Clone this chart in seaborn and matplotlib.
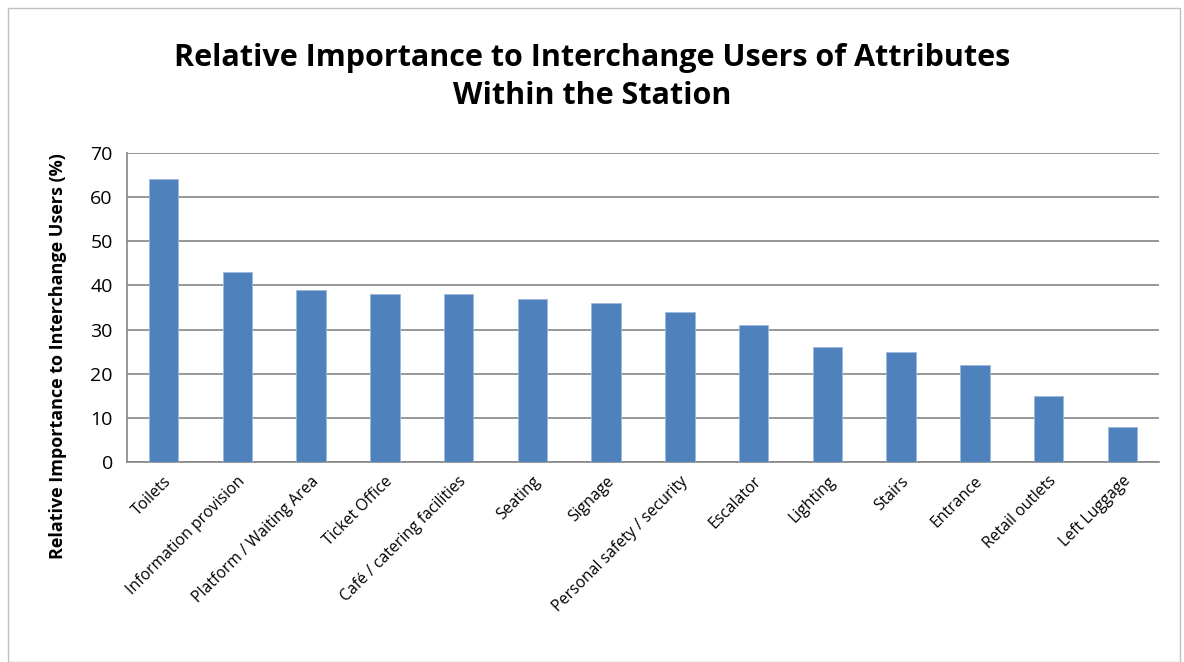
import pandas as pd
import seaborn as sns
import matplotlib.pyplot as plt
from matplotlib.patches import Rectangle

attributes = ['Toilets', 'Information provision', 'Platform / Waiting Area', 'Ticket Office',
              'Café / catering facilities', 'Seating', 'Signage', 'Personal safety / security',
              'Escalator', 'Lighting', 'Stairs', 'Entrance', 'Retail outlets', 'Left Luggage']
importance = [64, 43, 39, 38, 38, 37, 36, 34, 31, 26, 25, 22, 15, 8]
yticks = [0, 10, 20, 30, 40, 50, 60, 70]

df = pd.DataFrame({'attribute': attributes, 'importance': importance})

sns.set_style('white')
plt.rcParams['font.family'] = ['Open Sans', 'DejaVu Sans']
plt.rcParams['text.color'] = 'black'
plt.rcParams['axes.labelcolor'] = 'black'
plt.rcParams['xtick.labelcolor'] = 'black'
plt.rcParams['ytick.labelcolor'] = 'black'

fig = plt.figure(figsize=(11.84, 6.62), dpi=100)
ax = fig.add_axes([0.107, 0.302, 0.872, 0.467])
sns.barplot(data=df, x='attribute', y='importance', color='#4F81BD', width=0.4,
            saturation=1, edgecolor='#9DB9DC', linewidth=0.6, ax=ax, zorder=3)

grey = '#868686'
ax.set_ylim(0, 70)
ax.set_yticks(yticks)
ax.set_yticklabels([str(v) for v in yticks], fontsize=14)
ax.set_xlim(-0.5, len(attributes) - 0.5)
ax.yaxis.grid(True, color=grey, linewidth=1.2, zorder=0)
ax.set_axisbelow(True)

ax.set_xticks(range(len(attributes)))
ax.set_xticklabels(attributes, rotation=45, ha='right', rotation_mode='anchor', fontsize=11.3)
ax.set_xticks([i - 0.5 for i in range(len(attributes) + 1)], minor=True)
ax.tick_params(axis='x', which='major', length=0, pad=8)
ax.tick_params(axis='x', which='minor', length=6, color=grey, width=1.2, direction='out')
ax.tick_params(axis='y', length=6, color=grey, width=1.2, direction='out', pad=4)

for side in ['top', 'right']:
    ax.spines[side].set_visible(False)
for side in ['left', 'bottom']:
    ax.spines[side].set_color(grey)
    ax.spines[side].set_linewidth(1.2)

ax.set_xlabel('')
ax.set_ylabel('Relative Importance to Interchange Users (%)', fontsize=13, fontweight='bold')
ax.yaxis.set_label_coords(-0.058, 0.343)

fig.text(0.5, 0.884, 'Relative Importance to Interchange Users of Attributes\nWithin the Station',
         ha='center', va='center', fontsize=22, fontweight='bold', linespacing=1.35)

fig.patches.append(Rectangle((0.007, 0.0), 0.99, 0.988, transform=fig.transFigure,
                             fill=False, edgecolor='#BFBFBF', linewidth=1))

fig.savefig('out.png', dpi=100)
